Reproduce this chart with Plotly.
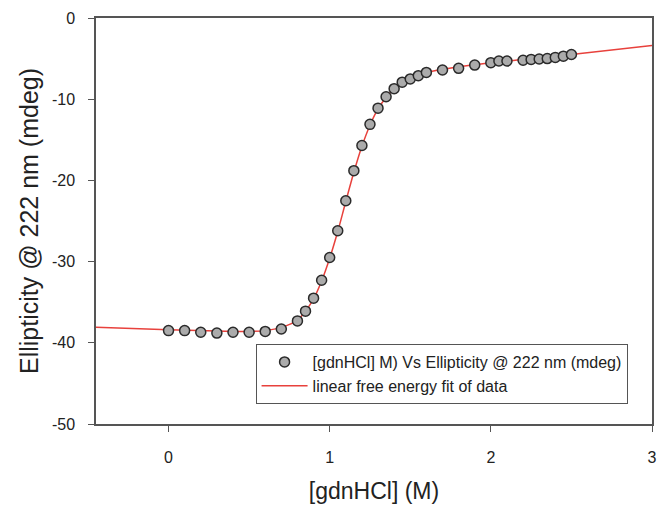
import plotly.graph_objects as go

gdn_conc = [0.0, 0.1, 0.2, 0.3, 0.4, 0.5, 0.6, 0.7, 0.8, 0.85, 0.9, 0.95, 1.0, 1.05, 1.1,
            1.15, 1.2, 1.25, 1.3, 1.35, 1.4, 1.45, 1.5, 1.55, 1.6, 1.7, 1.8, 1.9, 2.0,
            2.05, 2.1, 2.2, 2.25, 2.3, 2.35, 2.4, 2.45, 2.5]
ellipticity = [-38.5, -38.5, -38.7, -38.8, -38.7, -38.7, -38.6, -38.3, -37.3, -36.1, -34.5,
               -32.3, -29.5, -26.2, -22.5, -18.8, -15.7, -13.1, -11.1, -9.7, -8.7, -7.9,
               -7.5, -7.1, -6.7, -6.4, -6.2, -5.8, -5.5, -5.3, -5.3, -5.2, -5.1, -5.05,
               -5.0, -4.85, -4.7, -4.5]

# Fit curve
fit_x = [-0.45, 0.0, 0.3, 0.5, 0.6, 0.7, 0.8, 0.85, 0.9, 0.95, 1.0, 1.05, 1.1, 1.15, 1.2,
         1.25, 1.3, 1.35, 1.4, 1.5, 1.6, 1.8, 2.0, 2.5, 3.0]
fit_y = [-38.1, -38.4, -38.55, -38.6, -38.5, -38.1, -37.2, -36.1, -34.6, -32.4, -29.6,
         -26.3, -22.6, -19.0, -15.8, -13.2, -11.2, -9.8, -8.7, -7.4, -6.7, -6.0, -5.5,
         -4.5, -3.4]

x_ticks = [0, 1, 2, 3]
x_tick_labels = ["0", "1", "2", "3"]
y_ticks = [0, -10, -20, -30, -40, -50]
y_tick_labels = ["0", "-10", "-20", "-30", "-40", "-50"]

FONT = "Liberation Sans, Arial, sans-serif"

fig = go.Figure()
fig.add_trace(go.Scatter(
    x=fit_x, y=fit_y, mode="lines", name="linear free energy fit of data",
    line=dict(color="#e8413c", width=1.5, shape="spline"),
))
fig.add_trace(go.Scatter(
    x=gdn_conc, y=ellipticity, mode="markers",
    name="[gdnHCl] M) Vs Ellipticity @ 222 nm (mdeg)",
    marker=dict(symbol="circle", size=10, color="#ababab",
                line=dict(color="#2a2a2a", width=1.5)),
))

axis_common = dict(
    showgrid=False, zeroline=False, showline=True, linecolor="#555555", linewidth=1.5,
    mirror=True, ticks="outside", ticklen=6, tickwidth=1.2, tickcolor="#555555",
    tickfont=dict(family=FONT, size=16, color="#222222"),
)

fig.update_layout(
    width=664, height=510,
    margin=dict(l=96, r=7, t=18, b=86),
    paper_bgcolor="white", plot_bgcolor="white",
    font=dict(family=FONT, color="#222222"),
    xaxis=dict(range=[-0.45, 3.0], tickvals=x_ticks, ticktext=x_tick_labels,
               ticklabelstandoff=12,
               title=dict(text="[gdnHCl] (M)", font=dict(family=FONT, size=23), standoff=18),
               **axis_common),
    yaxis=dict(range=[-50, 0], tickvals=y_ticks, ticktext=y_tick_labels,
               ticklabelstandoff=10,
               title=dict(text="Ellipticity @ 222 nm (mdeg)", font=dict(family=FONT, size=25),
                          standoff=6),
               **axis_common),
    legend=dict(x=0.287, y=0.197, xanchor="left", yanchor="top",
                bordercolor="#555555", borderwidth=1, bgcolor="white",
                font=dict(family=FONT, size=16, color="#222222"),
                traceorder="reversed", itemwidth=46),
    showlegend=True,
)

fig.write_html("out.html")
